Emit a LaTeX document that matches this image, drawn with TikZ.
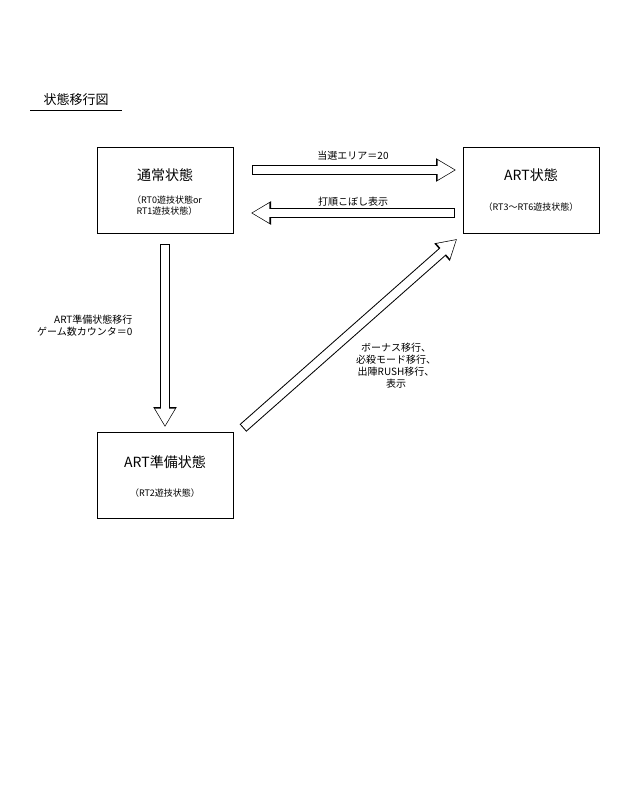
\documentclass[tikz,border=0pt]{standalone}
\usepackage{fontspec}
\setmainfont{Noto Sans CJK JP}
\usetikzlibrary{arrows.meta}
\tikzset{
  statebox/.style={draw, line width=0.9pt, minimum width=136pt, minimum height=86pt},
  bigtext/.style={font=\fontsize{14}{16}\selectfont},
  smalltext/.style={font=\fontsize{9}{11}\selectfont, align=center},
  lbltext/.style={font=\fontsize{10}{12}\selectfont, align=center}
}
\newcommand{\hollowarrow}[2]{%
  \draw [line width=10pt, -{Triangle[length=20pt,width=22pt]}] (#1) -- (#2);
  \draw [white, line width=8pt, shorten <=1pt, -{Triangle[length=17pt,width=18.5pt]}] (#1) -- ($(#2)!1.3pt!(#1)$);}
\usetikzlibrary{calc}
\begin{document}
\begin{tikzpicture}[x=1pt,y=-1pt]
\useasboundingbox (0,0) rectangle (640,811);
% title
\node [font=\fontsize{13}{15}\selectfont] (title) at (76,100) {状態移行図};
\draw [line width=0.8pt] (30,110) -- (122,110);
% states
\node [statebox] (normal) at (165,190) {};
\node [bigtext] at (165,175) {通常状態};
\node [smalltext] at (167,206) {（RT0遊技状態or\\RT1遊技状態）};
\node [statebox] (art) at (531,190) {};
\node [bigtext] at (531,175) {ART状態};
\node [smalltext] at (531,207) {（RT3～RT6遊技状態）};
\node [statebox] (prep) at (165,475) {};
\node [bigtext] at (165,462) {ART準備状態};
\node [smalltext] at (165,493) {（RT2遊技状態）};
% connectors
\coordinate (a1) at (252,170); \coordinate (a2) at (456,170);
\coordinate (b1) at (455,213); \coordinate (b2) at (251,213);
\coordinate (c1) at (165,244); \coordinate (c2) at (165,427);
\coordinate (d1) at (243,428); \coordinate (d2) at (457,239);
\hollowarrow{a1}{a2}
\hollowarrow{b1}{b2}
\hollowarrow{c1}{c2}
\hollowarrow{d1}{d2}
% labels
\node [lbltext] at (353,156) {当選エリア＝20};
\node [lbltext] at (353,202) {打順こぼし表示};
\node [lbltext, align=right, anchor=east] at (136,326) {ART準備状態移行\\ゲーム数カウンタ＝0};
\node [lbltext, inner sep=0pt] at (396,366) {ボーナス移行、\\必殺モード移行、\\出陣RUSH移行、\\表示};
\end{tikzpicture}
\end{document}
